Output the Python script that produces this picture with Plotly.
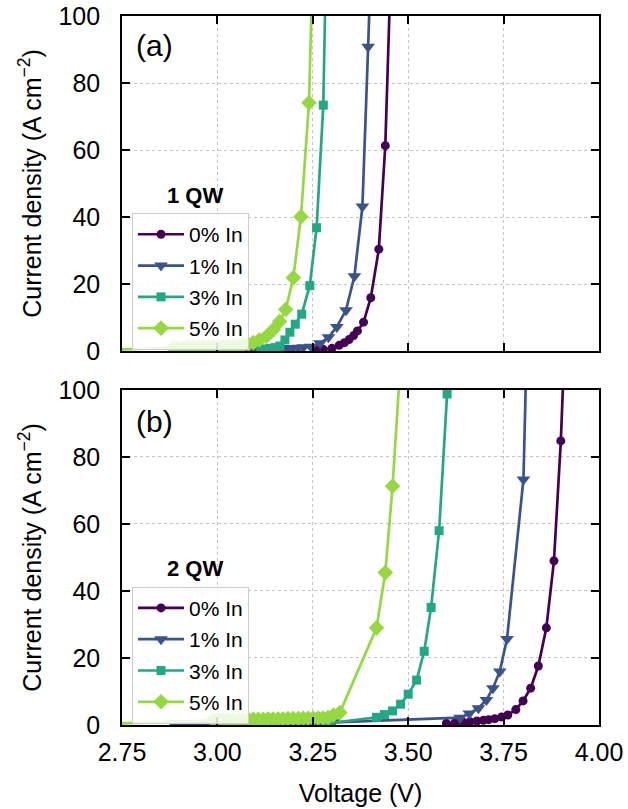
import plotly.graph_objects as go

# ---------------- single quantum well (panel a) ----------------
v_a_0 = [3.260, 3.277, 3.300, 3.319, 3.333, 3.345, 3.357, 3.367, 3.383, 3.402, 3.423, 3.440, 3.456]
j_a_0 = [0.3, 0.5, 0.8, 1.7, 2.5, 3.4, 4.6, 6.0, 8.6, 15.9, 30.4, 61.3, 120.0]

v_a_1 = [2.884, 2.897, 2.910, 2.923, 2.936, 2.950, 2.963, 2.976, 2.989, 3.002, 3.015, 3.028,
         3.041, 3.054, 3.067, 3.081, 3.094, 3.107, 3.120, 3.133, 3.146, 3.159, 3.172, 3.185,
         3.198, 3.212, 3.225, 3.245, 3.269, 3.291, 3.313, 3.337, 3.359, 3.380, 3.395, 3.405]
j_a_1 = [0.4, 0.4, 0.4, 0.4, 0.4, 0.5, 0.5, 0.5, 0.5, 0.5, 0.5, 0.6,
         0.6, 0.6, 0.6, 0.6, 0.7, 0.7, 0.7, 0.7, 0.8, 0.8, 0.8, 0.9,
         0.9, 1.0, 1.1, 1.3, 2.3, 4.1, 7.2, 12.2, 22.3, 43.1, 90.8, 125.0]

v_a_3 = [3.112, 3.125, 3.138, 3.151, 3.164, 3.177, 3.190, 3.204, 3.221, 3.242, 3.260, 3.2775, 3.287]
j_a_3 = [0.5, 0.6, 0.8, 1.0, 1.5, 3.3, 5.6, 8.0, 11.0, 19.5, 36.8, 73.4, 130.0]

v_a_5 = [2.700, 2.884, 2.897, 2.910, 2.923, 2.936, 2.950, 2.963, 2.976, 2.989, 3.002, 3.015,
         3.028, 3.041, 3.054, 3.067, 3.081, 3.094, 3.110, 3.129, 3.147, 3.163, 3.179, 3.199,
         3.219, 3.240, 3.252]
j_a_5 = [0.3, 1.0, 1.0, 1.0, 1.1, 1.1, 1.1, 1.2, 1.2, 1.2, 1.3, 1.3,
         1.4, 1.5, 1.6, 1.8, 2.1, 2.5, 3.3, 4.4, 6.4, 8.8, 12.4, 21.9,
         40.1, 74.1, 125.0]

# ---------------- double quantum well (panel b) ----------------
v_b_0 = [3.600, 3.622, 3.644, 3.662, 3.680, 3.697, 3.711, 3.727, 3.745, 3.761, 3.782, 3.801,
         3.821, 3.841, 3.862, 3.882, 3.900, 3.912]
j_b_0 = [0.5, 0.6, 0.8, 1.0, 1.2, 1.4, 1.6, 1.9, 2.4, 3.0, 4.6, 7.2,
         11.0, 17.6, 29.0, 49.0, 84.8, 120.0]

v_b_1 = [2.884, 2.897, 2.910, 2.923, 2.936, 2.950, 2.963, 2.976, 2.989, 3.002, 3.015, 3.028,
         3.041, 3.054, 3.067, 3.081, 3.094, 3.107, 3.120, 3.133, 3.146, 3.159, 3.172, 3.185,
         3.198, 3.212, 3.225, 3.238, 3.251, 3.264, 3.277, 3.290, 3.303, 3.636, 3.660, 3.684,
         3.705, 3.722, 3.740, 3.759, 3.802, 3.812]
j_b_1 = [0.5, 0.5, 0.5, 0.5, 0.5, 0.5, 0.5, 0.5, 0.5, 0.5, 0.5, 0.5,
         0.5, 0.5, 0.6, 0.6, 0.6, 0.6, 0.6, 0.6, 0.6, 0.6, 0.6, 0.7,
         0.7, 0.7, 0.7, 0.7, 0.7, 0.8, 0.8, 0.8, 0.8, 2.2, 3.4, 5.0,
         7.5, 11.0, 16.0, 25.7, 73.3, 120.0]

v_b_3 = [3.290, 3.417, 3.438, 3.459, 3.480, 3.500, 3.522, 3.542, 3.560, 3.581, 3.602, 3.610]
j_b_3 = [0.5, 2.3, 3.1, 4.2, 6.2, 9.2, 13.4, 22.0, 35.1, 58.0, 98.8, 125.0]

v_b_5 = [2.700, 2.989, 3.002, 3.015, 3.028, 3.041, 3.054, 3.067, 3.081, 3.094, 3.107, 3.120,
         3.133, 3.146, 3.159, 3.172, 3.185, 3.198, 3.212, 3.225, 3.238, 3.251, 3.264, 3.277,
         3.290, 3.304, 3.321, 3.417, 3.440, 3.459, 3.478]
j_b_5 = [0.3, 1.5, 1.5, 1.5, 1.6, 1.6, 1.6, 1.6, 1.7, 1.7, 1.7, 1.7,
         1.8, 1.8, 1.8, 1.8, 1.9, 1.9, 1.9, 2.0, 2.0, 2.0, 2.1, 2.1,
         2.2, 3.0, 3.7, 29.0, 45.5, 71.3, 105.0]

labels = ["0% In", "1% In", "3% In", "5% In"]
x_ticks = [2.75, 3.00, 3.25, 3.50, 3.75, 4.00]
y_ticks = [0, 20, 40, 60, 80, 100]

colors = ["#440154", "#3b528b", "#22a884", "#95d840"]
symbols = ["circle", "triangle-down", "square", "diamond"]
msizes = [9, 12, 9, 12]

FONT = "Liberation Sans, Arial, sans-serif"

panels = [
    ("x", "y", "legend", [(v_a_0, j_a_0), (v_a_1, j_a_1), (v_a_3, j_a_3), (v_a_5, j_a_5)]),
    ("x2", "y2", "legend2", [(v_b_0, j_b_0), (v_b_1, j_b_1), (v_b_3, j_b_3), (v_b_5, j_b_5)]),
]

fig = go.Figure()
for xa, ya, leg, series in panels:
    for i, (v, j) in enumerate(series):
        fig.add_trace(go.Scatter(
            x=v, y=j, xaxis=xa, yaxis=ya, mode="lines+markers", name=labels[i],
            legend=leg, legendgroup=f"{leg}-{i}",
            line=dict(color=colors[i], width=2.7),
            marker=dict(symbol=symbols[i], size=msizes[i], color=colors[i]),
        ))

axis_common = dict(
    showline=True, linecolor="black", linewidth=1.6, mirror="ticks",
    ticks="inside", ticklen=8, tickwidth=1.6, tickcolor="black",
    showgrid=True, gridcolor="#c4c4c4", griddash="dot", gridwidth=1.3,
    zeroline=False, automargin=False,
    tickfont=dict(size=25, color="black", family=FONT),
)

y_title = dict(text="Current density (A cm<sup>−2</sup>)", standoff=10,
               font=dict(size=25, family=FONT, color="black"))

legend_common = dict(
    xanchor="left", yanchor="top",
    bgcolor="rgba(255,255,255,0.85)", bordercolor="#cccccc", borderwidth=1,
    font=dict(size=21, family=FONT, color="black"), tracegroupgap=1, itemwidth=46,
)

fig.update_layout(
    width=628, height=809,
    margin=dict(l=122, r=29, t=16, b=84, autoexpand=False),
    paper_bgcolor="white", plot_bgcolor="white",
    font=dict(family=FONT, color="black"),
    xaxis=dict(axis_common, domain=[0, 1], range=[2.75, 4.0], tickvals=x_ticks,
               showticklabels=False, anchor="y"),
    yaxis=dict(axis_common, domain=[0.5275, 1], range=[0, 100], tickvals=y_ticks,
               anchor="x", title=y_title, ticklabelstandoff=15),
    xaxis2=dict(axis_common, domain=[0, 1], range=[2.75, 4.0], tickvals=x_ticks,
                tickformat=".2f", anchor="y2", matches="x", ticklabelstandoff=4,
                title=dict(text="Voltage (V)", standoff=20,
                           font=dict(size=25, family=FONT, color="black"))),
    yaxis2=dict(axis_common, domain=[0, 0.4725], range=[0, 100], tickvals=y_ticks,
                anchor="x2", title=y_title, ticklabelstandoff=15),
    legend=dict(legend_common, x=0.021, y=0.722),
    legend2=dict(legend_common, x=0.021, y=0.195),
    annotations=[
        dict(text="(a)", x=0.069, y=0.959, xref="paper", yref="paper", showarrow=False,
             xanchor="center", yanchor="middle",
             font=dict(size=30, family=FONT, color="black")),
        dict(text="(b)", x=0.069, y=0.4285, xref="paper", yref="paper", showarrow=False,
             xanchor="center", yanchor="middle",
             font=dict(size=30, family=FONT, color="black")),
        dict(text="<b>1 QW</b>", x=0.153, y=0.7475, xref="paper", yref="paper", showarrow=False,
             xanchor="center", yanchor="middle",
             font=dict(size=22, family=FONT, color="black")),
        dict(text="<b>2 QW</b>", x=0.153, y=0.2214, xref="paper", yref="paper", showarrow=False,
             xanchor="center", yanchor="middle",
             font=dict(size=22, family=FONT, color="black")),
    ],
)

fig.write_html("out.html")
